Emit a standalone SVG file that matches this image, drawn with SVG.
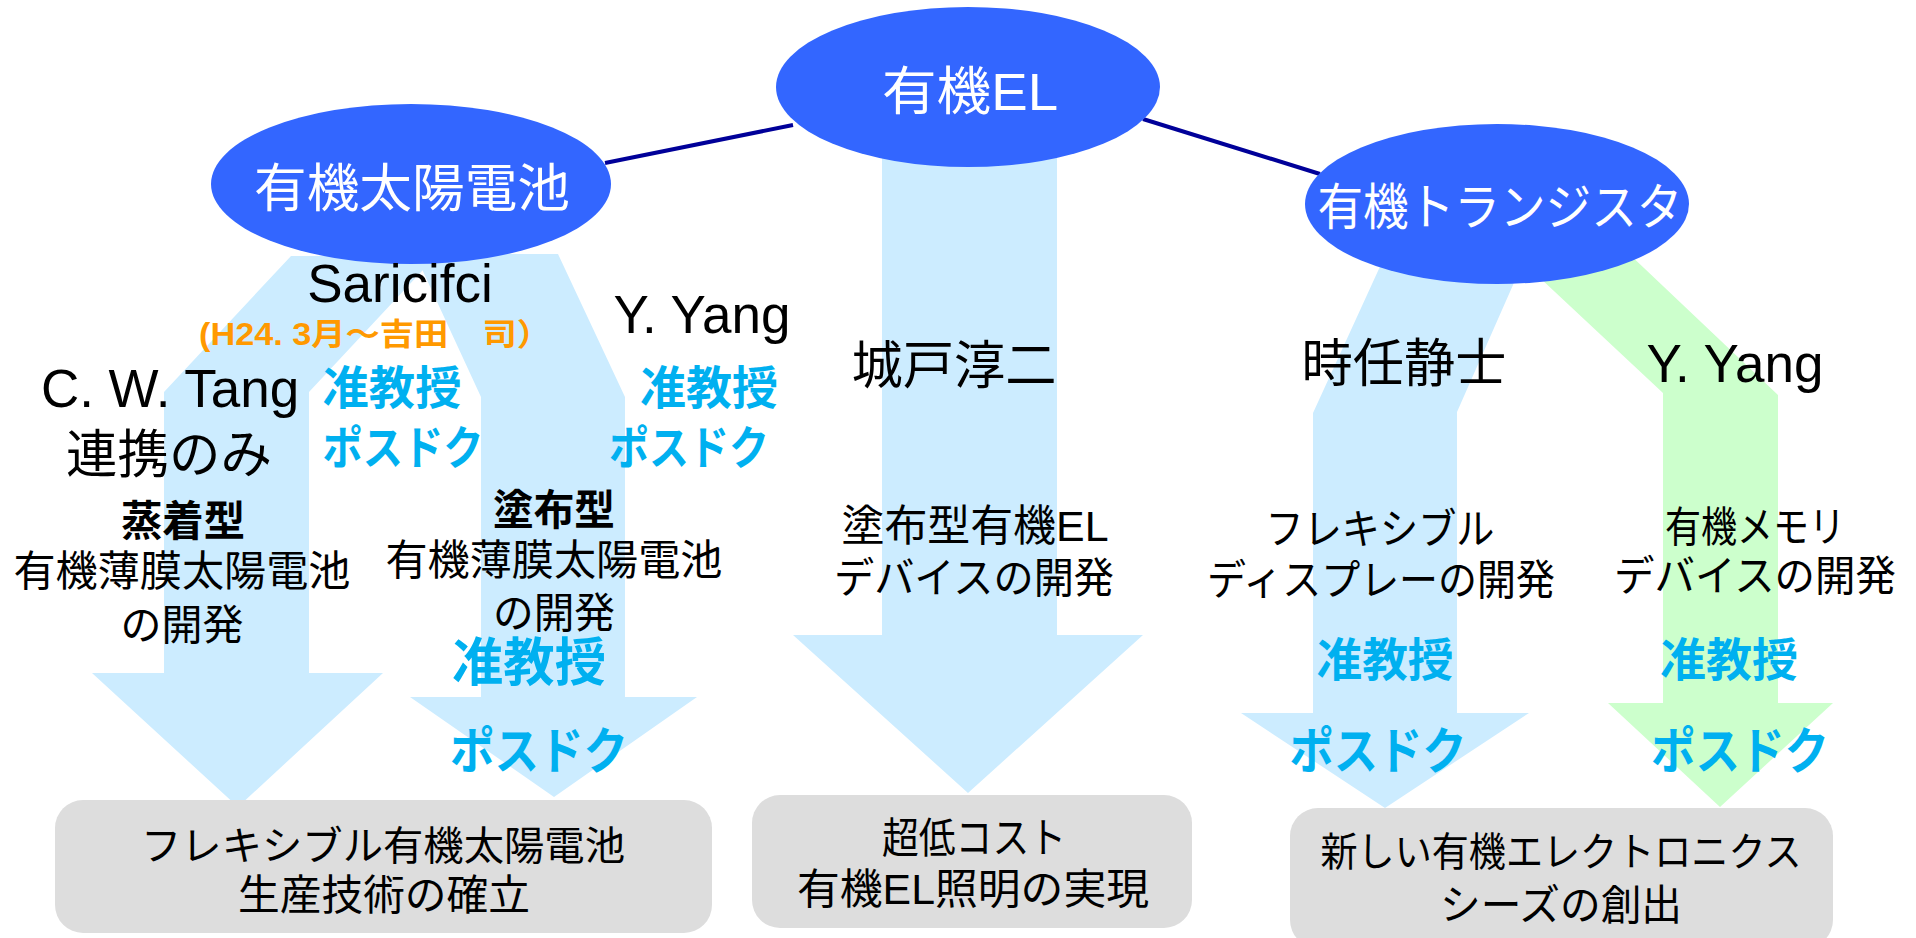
<svg xmlns="http://www.w3.org/2000/svg" width="1916" height="938" viewBox="0 0 1916 938">
<style>
.bg{fill:#ffffff}
.ab{fill:#CCECFF}
.ag{fill:#CCFFCC}
.box{fill:#DDDDDD}
.ell{fill:#3366FF}
.con{stroke:#000099;stroke-width:4;fill:none}
text{font-family:"Liberation Sans","Noto Sans CJK JP",sans-serif;text-anchor:middle}
.c{dominant-baseline:central}
.w{fill:#ffffff}
.k{fill:#000000}
.b{fill:#00B0F0;font-weight:bold}
.o{fill:#FF9900;font-weight:bold}
.bd{font-weight:bold}
</style>
<rect class="bg" x="0" y="0" width="1916" height="938"/>
<g id="arrows">
<polygon id="arrow-tang" class="ab" points="291,256 436,256 309,392 309,673 383,673 238,807 92,673 164,673 164,392"/>
<polygon id="arrow-saricifci" class="ab" points="415,254 558,254 625,397 625,697 697,697 554,797 410,697 481,697 481,397"/>
<polygon id="arrow-kido" class="ab" points="882,150 1057,150 1057,635 1143,635 968,793 793,635 882,635"/>
<polygon id="arrow-tokito" class="ab" points="1383,260 1524,260 1457,412 1457,713 1529,713 1385,808 1241,713 1313,713 1313,413"/>
<polygon id="arrow-yang2" class="ag" points="1510,250 1625,250 1778,395 1778,703 1833,703 1720,807 1608,703 1663,703 1663,393"/>
</g>
<g id="connectors">
<line class="con" x1="605" y1="163" x2="793" y2="125"/>
<line class="con" x1="1143" y1="119" x2="1320" y2="174"/>
</g>
<g id="node-el">
<ellipse class="ell" cx="968" cy="87" rx="192" ry="80"/>
<text class="c w" x="970" y="92" font-size="52" textLength="176" lengthAdjust="spacingAndGlyphs">有機EL</text>
</g>
<g id="node-solar">
<ellipse class="ell" cx="411" cy="184" rx="200" ry="80"/>
<text class="c w" x="412" y="189" font-size="52" textLength="316" lengthAdjust="spacingAndGlyphs">有機太陽電池</text>
</g>
<g id="node-transistor">
<ellipse class="ell" cx="1497" cy="204" rx="192" ry="80"/>
<text class="c w" x="1500" y="208" font-size="50" textLength="365" lengthAdjust="spacingAndGlyphs">有機トランジスタ</text>
</g>
<g id="people">
<text class="k" x="400" y="302" font-size="53">Saricifci</text>
<text class="c o" x="375" y="334" font-size="31" textLength="352" lengthAdjust="spacingAndGlyphs">(H24. 3月～吉田　司）</text>
<text class="k" x="702" y="333" font-size="53">Y. Yang</text>
<text class="k" x="170" y="407" font-size="53">C. W. Tang</text>
<text class="c k" x="169" y="455" font-size="52" textLength="206" lengthAdjust="spacingAndGlyphs">連携のみ</text>
<text class="c b" x="392" y="388" font-size="46" textLength="139" lengthAdjust="spacingAndGlyphs">准教授</text>
<text class="c b" x="403" y="448" font-size="46" textLength="161" lengthAdjust="spacingAndGlyphs">ポスドク</text>
<text class="c b" x="709" y="388" font-size="46" textLength="138" lengthAdjust="spacingAndGlyphs">准教授</text>
<text class="c b" x="689" y="448" font-size="46" textLength="160" lengthAdjust="spacingAndGlyphs">ポスドク</text>
<text class="c k" x="954" y="366" font-size="52" textLength="205" lengthAdjust="spacingAndGlyphs">城戸淳二</text>
<text class="c k" x="1404" y="364" font-size="52" textLength="205" lengthAdjust="spacingAndGlyphs">時任静士</text>
<text class="k" x="1735" y="382" font-size="53">Y. Yang</text>
</g>
<g id="themes">
<text class="c k bd" x="183" y="521" font-size="42" textLength="124" lengthAdjust="spacingAndGlyphs">蒸着型</text>
<text class="c k" x="182" y="571" font-size="42" textLength="337" lengthAdjust="spacingAndGlyphs">有機薄膜太陽電池</text>
<text class="c k" x="182" y="625" font-size="42" textLength="123" lengthAdjust="spacingAndGlyphs">の開発</text>
<text class="c k bd" x="554" y="510" font-size="42" textLength="122" lengthAdjust="spacingAndGlyphs">塗布型</text>
<text class="c k" x="554" y="560" font-size="42" textLength="337" lengthAdjust="spacingAndGlyphs">有機薄膜太陽電池</text>
<text class="c k" x="554" y="613" font-size="42" textLength="122" lengthAdjust="spacingAndGlyphs">の開発</text>
<text class="c b" x="529" y="663" font-size="52" textLength="154" lengthAdjust="spacingAndGlyphs">准教授</text>
<text class="c b" x="539" y="752" font-size="50" textLength="178" lengthAdjust="spacingAndGlyphs">ポスドク</text>
<text class="c k" x="975" y="526" font-size="43" textLength="267" lengthAdjust="spacingAndGlyphs">塗布型有機EL</text>
<text class="c k" x="974" y="578" font-size="42" textLength="280" lengthAdjust="spacingAndGlyphs">デバイスの開発</text>
<text class="c k" x="1380" y="529" font-size="42" textLength="229" lengthAdjust="spacingAndGlyphs">フレキシブル</text>
<text class="c k" x="1381" y="580" font-size="42" textLength="348" lengthAdjust="spacingAndGlyphs">ディスプレーの開発</text>
<text class="c k" x="1755" y="527" font-size="42" textLength="180" lengthAdjust="spacingAndGlyphs">有機メモリ</text>
<text class="c k" x="1755" y="576" font-size="42" textLength="282" lengthAdjust="spacingAndGlyphs">デバイスの開発</text>
<text class="c b" x="1385" y="660" font-size="46" textLength="137" lengthAdjust="spacingAndGlyphs">准教授</text>
<text class="c b" x="1378" y="752" font-size="50" textLength="177" lengthAdjust="spacingAndGlyphs">ポスドク</text>
<text class="c b" x="1729" y="660" font-size="46" textLength="138" lengthAdjust="spacingAndGlyphs">准教授</text>
<text class="c b" x="1740" y="752" font-size="50" textLength="178" lengthAdjust="spacingAndGlyphs">ポスドク</text>
</g>
<g id="goal-solar">
<rect class="box" x="55" y="800" width="657" height="133" rx="28"/>
<text class="c k" x="383" y="846" font-size="40" textLength="484" lengthAdjust="spacingAndGlyphs">フレキシブル有機太陽電池</text>
<text class="c k" x="384" y="895" font-size="42" textLength="292" lengthAdjust="spacingAndGlyphs">生産技術の確立</text>
</g>
<g id="goal-el">
<rect class="box" x="752" y="795" width="440" height="133" rx="28"/>
<text class="c k" x="974" y="838" font-size="42" textLength="184" lengthAdjust="spacingAndGlyphs">超低コスト</text>
<text class="c k" x="973" y="889" font-size="42" textLength="352" lengthAdjust="spacingAndGlyphs">有機EL照明の実現</text>
</g>
<g id="goal-transistor">
<rect class="box" x="1290" y="808" width="543" height="140" rx="28"/>
<text class="c k" x="1561" y="852" font-size="40" textLength="481" lengthAdjust="spacingAndGlyphs">新しい有機エレクトロニクス</text>
<text class="c k" x="1561" y="905" font-size="42" textLength="242" lengthAdjust="spacingAndGlyphs">シーズの創出</text>
</g>
</svg>
